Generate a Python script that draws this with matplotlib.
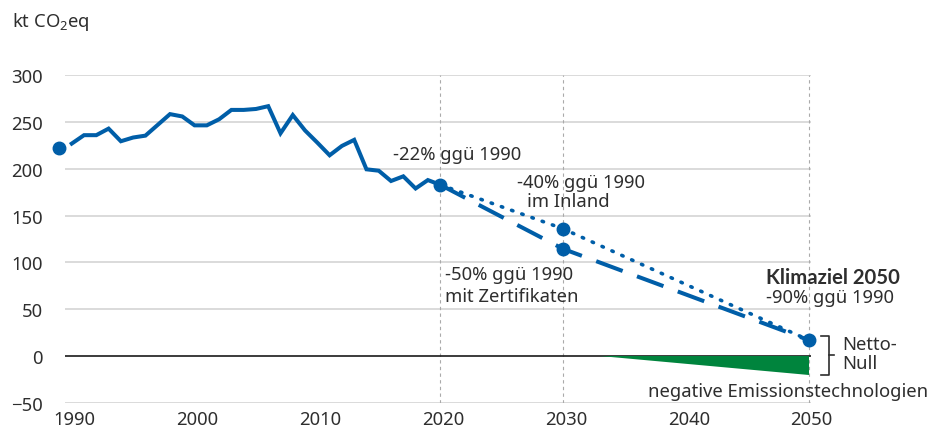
import matplotlib
matplotlib.use('Agg')
import matplotlib.pyplot as plt
import matplotlib.transforms as mtransforms

plt.rcParams['font.family'] = ['Noto Sans', 'DejaVu Sans']
plt.rcParams['mathtext.fontset'] = 'custom'
plt.rcParams['mathtext.rm'] = 'Noto Sans'
plt.rcParams['mathtext.it'] = 'Noto Sans'

# historische Emissionen
years = list(range(1990, 2021))
emissions = [227, 236, 236, 243, 229.5, 233.5, 235.5, 247, 258.5, 256,
             246.5, 246.5, 253, 263, 263, 264, 267, 238, 257.5, 241,
             228, 214.5, 224.5, 231, 199.5, 198, 187, 192, 179, 188, 183]

# Basisjahr-Punkt
base_year = 1989
base_value = 222

# Zielpfade
path_inland_years = [2020, 2030, 2050]
path_inland_values = [183, 136, 17]
path_zert_years = [2020, 2030, 2050]
path_zert_values = [183, 114.5, 17]

# negative Emissionstechnologien
neg_years = [2033, 2050, 2050]
neg_values = [0, 0, -20]

yticks = [-50, 0, 50, 100, 150, 200, 250, 300]
xticks = [1990, 2000, 2010, 2020, 2030, 2040, 2050]
vlines = [2020, 2030, 2050]

blue = '#005EA8'
green = '#00843D'
txt = '#2e2e2e'
W, H = 929, 431
fs = 13.3

fig = plt.figure(figsize=(W / 100, H / 100), dpi=100)
ax = fig.add_axes([65 / W, 1 - 403.7 / H, (811 - 65) / W, (403.7 - 76.3) / H])

ax.set_ylim(-50, 300)
ax.set_xlim(1989.45, 2050.2)

for y in yticks:
    if y == 0:
        ax.axhline(y, color='#1a1a1a', lw=1.2, zorder=2)
    else:
        ax.axhline(y, color='#d4d4d4', lw=1.2, zorder=1)
for x in vlines:
    ax.axvline(x, color='#aaaaaa', lw=0.8, ls=(0, (3, 3)), zorder=1)

ax.fill(neg_years, neg_values, color=green, lw=0, zorder=3)

ax.plot(path_inland_years, path_inland_values, color=blue, lw=2.6,
        ls=(0, (0.4, 2.6)), dash_capstyle='round', zorder=4)
ax.plot(path_zert_years, path_zert_values, color=blue, lw=2.9,
        ls=(0, (7, 3.8)), zorder=4)
ax.plot(years, emissions, color=blue, lw=2.9, solid_joinstyle='miter', zorder=5)

ax.plot([base_year], [base_value], 'o', color=blue, ms=9, clip_on=False, zorder=6)
ax.plot([2020, 2030, 2030, 2050], [183, path_inland_values[1], path_zert_values[1], 17],
        'o', color=blue, ms=9, clip_on=False, zorder=6)

ax.set_yticks(yticks)
ax.set_xticks(xticks)
ax.tick_params(length=0, labelsize=fs, colors=txt)
ax.tick_params(axis='y', pad=16)
ax.tick_params(axis='x', pad=5)
for lab in ax.get_xticklabels():
    lab.set_transform(lab.get_transform() + mtransforms.ScaledTranslation(3 / 100, 0, fig.dpi_scale_trans))
for s in ax.spines.values():
    s.set_visible(False)


def put(x, y, s, **kw):
    kw.setdefault('fontsize', fs)
    fig.text(x / W, 1 - y / H, s, va='center', ha='left', color=txt, **kw)


put(12, 22, 'kt CO$_2$eq')
put(393, 155, '-22% ggü 1990')
put(517, 183, '-40% ggü 1990')
put(527, 202, 'im Inland')
put(445, 275, '-50% ggü 1990')
put(445, 297, 'mit Zertifikaten')
put(766, 278, 'Klimaziel 2050', fontweight='bold', family=['Lato', 'DejaVu Sans'], fontsize=14.6)
put(766, 298, '-90% ggü 1990')
put(842, 345, 'Netto-')
put(842, 364, 'Null')
put(648, 392, 'negative Emissionstechnologien')

# Klammer fuer Netto-Null
bx, btop, bbot, bl, br, bm = 829, 336.7, 375.5, 821, 834, 356
kw = dict(color=txt, lw=1.2, transform=fig.transFigure)
fig.add_artist(plt.Line2D([bl / W, bx / W, bx / W, bl / W],
                          [1 - btop / H, 1 - btop / H, 1 - bbot / H, 1 - bbot / H], **kw))
fig.add_artist(plt.Line2D([bx / W, br / W], [1 - bm / H, 1 - bm / H], **kw))

fig.savefig('out.png', dpi=100)
